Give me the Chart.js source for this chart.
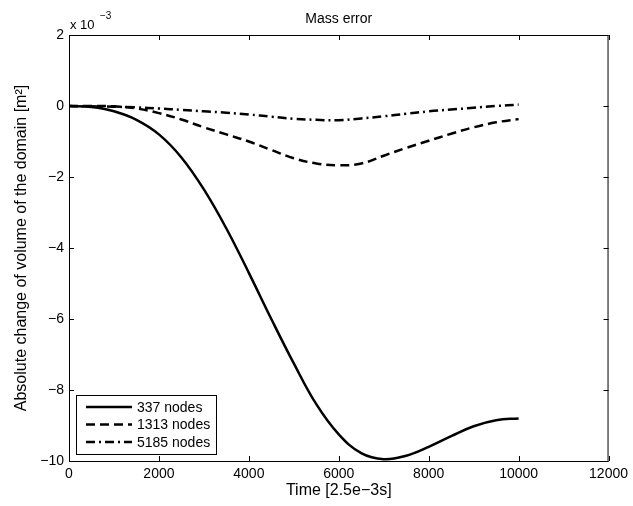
<!DOCTYPE html>
<html>
<head>
<meta charset="utf-8">
<script src="https://cdn.jsdelivr.net/npm/chart.js@4"></script>
<style>
html,body{margin:0;padding:0;background:#fff;}
#wrap{width:633px;height:506px;}
</style>
</head>
<body>
<div id="wrap"><canvas id="grafico" width="633" height="506"></canvas></div>
<script>
// time steps (x) and volume change in units of 1e-3 m^2
const tempo = [0,500,1000,1500,2000,2500,3000,3500,4000,4500,5000,5500,6000,6500,7000,7500,8000,8500,9000,9500,10000];
const nodes337  = [0,-0.03,-0.15,-0.39,-0.80,-1.45,-2.35,-3.45,-4.70,-6.00,-7.25,-8.40,-9.25,-9.78,-9.95,-9.85,-9.60,-9.30,-9.02,-8.85,-8.80];
const nodes1313 = [0,0,-0.01,-0.07,-0.20,-0.38,-0.60,-0.80,-1.00,-1.24,-1.47,-1.62,-1.67,-1.62,-1.40,-1.18,-0.98,-0.78,-0.60,-0.46,-0.37];
const nodes5185 = [0,-0.01,-0.02,-0.04,-0.07,-0.11,-0.15,-0.19,-0.24,-0.30,-0.36,-0.39,-0.40,-0.35,-0.29,-0.22,-0.15,-0.10,-0.05,0.00,0.04];
const rotulos = ["337 nodes","1313 nodes","5185 nodes"];
const ticksX = [0,2000,4000,6000,8000,10000,12000];
const ticksY = [-10,-8,-6,-4,-2,0,2];

const fonte = "'Liberation Sans', Arial, Helvetica, sans-serif";

function pontos(ys){
  return tempo.map((t,i)=>({x:t, y:ys[i]}));
}

const estilos = [[], [9,5], [9,4,2,4]];

const molduraPlugin = {
  id: 'moldura',
  afterDraw(chart){
    const ctx = chart.ctx;
    const a = chart.chartArea;
    const sx = chart.scales.x, sy = chart.scales.y;
    ctx.save();
    ctx.strokeStyle = '#000';
    ctx.lineWidth = 1;
    ctx.setLineDash([]);
    ctx.strokeRect(a.left+0.5, a.top+0.5, a.right-a.left-1, a.bottom-a.top);
    ctx.beginPath();
    ticksX.forEach(v=>{
      const px = Math.round(sx.getPixelForValue(v))+0.5;
      ctx.moveTo(px, a.bottom); ctx.lineTo(px, a.bottom-5);
      ctx.moveTo(px, a.top); ctx.lineTo(px, a.top+5);
    });
    ticksY.forEach(v=>{
      const py = Math.round(sy.getPixelForValue(v))+0.5;
      ctx.moveTo(a.left, py); ctx.lineTo(a.left+5, py);
      ctx.moveTo(a.right, py); ctx.lineTo(a.right-5, py);
    });
    ctx.stroke();

    // title
    ctx.fillStyle = '#000';
    ctx.textAlign = 'center';
    ctx.textBaseline = 'middle';
    ctx.font = '14px ' + fonte;
    ctx.fillText('Mass error', (a.left+a.right)/2, 19);

    // exponent label
    ctx.textAlign = 'left';
    ctx.textBaseline = 'alphabetic';
    ctx.font = '13px ' + fonte;
    ctx.fillText('x 10', a.left + 1, 29);
    ctx.font = '10px ' + fonte;
    ctx.fillText('\u22123', a.left + 31, 19);

    // legend
    const lx = 76, ly = 395, lw = 140, lh = 59;
    ctx.fillStyle = '#fff';
    ctx.fillRect(lx, ly, lw, lh);
    ctx.strokeStyle = '#000';
    ctx.lineWidth = 1;
    ctx.strokeRect(lx+0.5, ly+0.5, lw, lh);
    ctx.font = '14px ' + fonte;
    ctx.textBaseline = 'middle';
    chart.data.datasets.forEach((ds,i)=>{
      const yy = 407 + i*17.5;
      ctx.beginPath();
      ctx.lineWidth = 2.5;
      ctx.setLineDash(ds.borderDash || []);
      ctx.moveTo(86, yy); ctx.lineTo(132, yy);
      ctx.stroke();
      ctx.setLineDash([]);
      ctx.fillStyle = '#000';
      ctx.fillText(ds.label, 137, yy+1);
    });
    ctx.restore();
  }
};

new Chart(document.getElementById('grafico'), {
  type: 'line',
  data: {
    datasets: [nodes337, nodes1313, nodes5185].map((s,i)=>({
      label: rotulos[i],
      data: pontos(s),
      borderColor: '#000',
      borderWidth: 2.5,
      borderDash: estilos[i],
      pointRadius: 0,
      tension: 0.4,
      fill: false
    }))
  },
  options: {
    responsive: false,
    animation: false,
    devicePixelRatio: 1,
    layout: { padding: { top: 35, right: 23, left: 0, bottom: 0 } },
    plugins: { legend: { display: false }, title: { display: false }, tooltip: { enabled: false } },
    scales: {
      x: {
        type: 'linear', min: 0, max: 12000,
        afterBuildTicks: s => { s.ticks = ticksX.map(v=>({value:v})); },
        afterFit: s => { s.height = 45; },
        grid: { display: false, drawTicks: false },
        border: { display: false },
        ticks: { color: '#000', font: { family: fonte, size: 14 }, padding: 5, maxRotation: 0,
          callback: v => String(v) },
        title: { display: true, text: 'Time [2.5e\u22123s]', color: '#000',
          font: { family: fonte, size: 16 }, padding: { top: 0, bottom: 6 } }
      },
      y: {
        min: -10, max: 2,
        afterBuildTicks: s => { s.ticks = ticksY.map(v=>({value:v})); },
        afterFit: s => { s.width = 69; },
        grid: { display: false, drawTicks: false },
        border: { display: false },
        ticks: { color: '#000', font: { family: fonte, size: 14 }, padding: 5,
          callback: v => String(v).replace('-', '\u2212') },
        title: { display: true, text: 'Absolute change of volume of the domain [m\u00b2]', color: '#000',
          font: { family: fonte, size: 16 }, padding: { top: 12, bottom: 0 } }
      }
    }
  },
  plugins: [molduraPlugin]
});
</script>
</body>
</html>
